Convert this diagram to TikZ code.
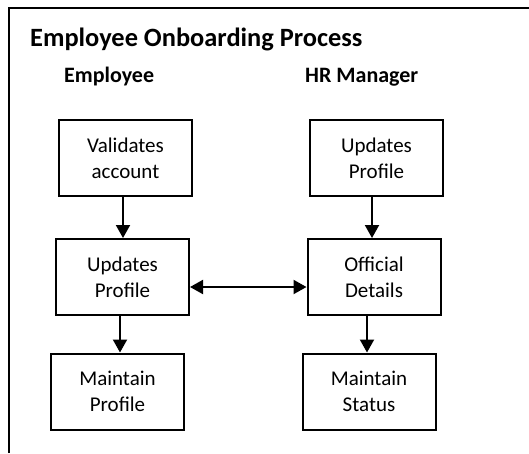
\documentclass[tikz,border=0pt]{standalone}
\usepackage{fontspec}
\setmainfont{Carlito}
\usetikzlibrary{arrows.meta,calc}
\begin{document}
\begin{tikzpicture}[x=1pt,y=-1pt,
  heading/.style={inner sep=0pt, anchor=base west, font=\fontsize{26.4}{30}\selectfont\bfseries},
  lane/.style={inner sep=0pt, anchor=base west, font=\fontsize{22}{26}\selectfont\bfseries},
  stepbox/.style={draw=black, line width=2pt, minimum width=133pt, minimum height=76pt,
    inner sep=0pt, align=center, font=\fontsize{21}{25.7}\selectfont},
  flow/.style={line width=2pt, -{Triangle[length=13pt,width=14pt]}},
  both/.style={line width=2pt, {Triangle[length=13pt,width=14pt]}-{Triangle[length=13pt,width=14pt]}},
]
\useasboundingbox (0,0) rectangle (529,453);

% outer frame (top and left edges)
\draw[line width=2pt] (9,453) |- (529,8);

% titles
\node[heading] (title) at (30,46) {Employee Onboarding Process};
\node[lane] (emp) at (64,82) {Employee};
\node[lane] (hr) at (305,82) {HR Manager};

% employee lane
\node[stepbox] (A1) at (125.5,158) {Validates\\account};
\node[stepbox] (A2) at (122.5,277) {Updates\\Profile};
\node[stepbox] (A3) at (117.5,391.5) {Maintain\\Profile};

% HR manager lane
\node[stepbox] (B1) at (376.5,158) {Updates\\Profile};
\node[stepbox] (B2) at (374,277) {Official\\Details};
\node[stepbox] (B3) at (369,391.5) {Maintain\\Status};

% connectors
\coordinate (a1s) at ($(A1.south)+(-2.5,0)$);
\coordinate (a2s) at ($(A2.south)+(-2.5,0)$);
\coordinate (b1s) at ($(B1.south)+(-4.5,0)$);
\coordinate (b3n) at ($(B3.north)+(-2,0)$);
\coordinate (a2e) at ($(A2.east)+(0,10)$);

\draw[flow] (a1s) -- (a1s |- A2.north);
\draw[flow] (a2s) -- (a2s |- A3.north);
\draw[flow] (b1s) -- (b1s |- B2.north);
\draw[flow] (b3n |- B2.south) -- (b3n);
\draw[both] (a2e) -- (a2e -| B2.west);
\end{tikzpicture}
\end{document}
